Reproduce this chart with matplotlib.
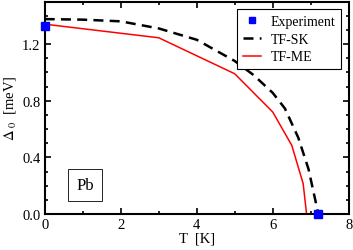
import matplotlib
matplotlib.use("Agg")
import matplotlib.pyplot as plt
from matplotlib.ticker import MultipleLocator, FormatStrFormatter

plt.rcParams['font.family'] = ['Liberation Serif', 'DejaVu Serif']
plt.rcParams['mathtext.fontset'] = 'stix'

exp_T = [0.0, 7.2]
exp_D = [1.33, 0.0]
sk_T = [0.0, 1.0, 2.0, 3.0, 4.0, 5.0, 5.5, 6.0, 6.32, 6.67, 6.94, 7.11, 7.2]
sk_D = [1.376, 1.372, 1.36, 1.31, 1.23, 1.08, 0.98, 0.855, 0.745, 0.54, 0.318, 0.11, 0.0]
me_T = [0.0, 3.0, 5.0, 6.0, 6.5, 6.8, 6.89]
me_D = [1.34, 1.244, 0.99, 0.72, 0.485, 0.215, 0.0]

fig = plt.figure(figsize=(3.53, 2.51), dpi=100)
ax = fig.add_axes([0.1266, 0.1434, 0.988 - 0.1266, 0.99 - 0.1434])

ax.plot(sk_T, sk_D, color='black', ls=(0, (4, 2.5)), lw=1.8, label='TF-SK')
ax.plot(me_T, me_D, color='red', lw=1.1, label='TF-ME')
ax.plot(exp_T, exp_D, ls='none', marker='s', ms=5.5, color='#0000ff', clip_on=False, zorder=5, label='Experiment')

ax.set_xlim(0, 8)
ax.set_ylim(0, 1.5)
ax.xaxis.set_major_locator(MultipleLocator(2))
ax.xaxis.set_minor_locator(MultipleLocator(1))
ax.yaxis.set_major_locator(MultipleLocator(0.4))
ax.yaxis.set_minor_locator(MultipleLocator(0.1))
ax.yaxis.set_major_formatter(FormatStrFormatter('%.1f'))
ax.tick_params(which='both', direction='in', top=True, right=True, labelsize=10.5, width=1.2)
ax.tick_params(which='major', length=4, pad=3)
ax.tick_params(which='minor', length=2.5)
for s in ax.spines.values():
    s.set_linewidth(1.5)

ax.set_xlabel('T  [K]', fontsize=10.5, labelpad=0)
ax.set_ylabel(r'$\Delta_{\ 0}$  [meV]', fontsize=10.5, labelpad=3)

handles, labels = ax.get_legend_handles_labels()
order = [2, 0, 1]
leg = ax.legend([handles[i] for i in order], [labels[i] for i in order],
                loc='upper right', fontsize=10, frameon=True, fancybox=False,
                edgecolor='black', framealpha=1, borderaxespad=0.55,
                handlelength=1.3, labelspacing=0.35, borderpad=0.4, handletextpad=0.7,
                markerscale=0.9)
leg.get_frame().set_linewidth(0.8)

ax.text(1.06, 0.205, 'Pb', fontsize=12, ha='center', va='center',
        bbox=dict(boxstyle='square,pad=0.5', fc='white', ec='black', lw=0.6))

fig.savefig('out.png', dpi=100)
